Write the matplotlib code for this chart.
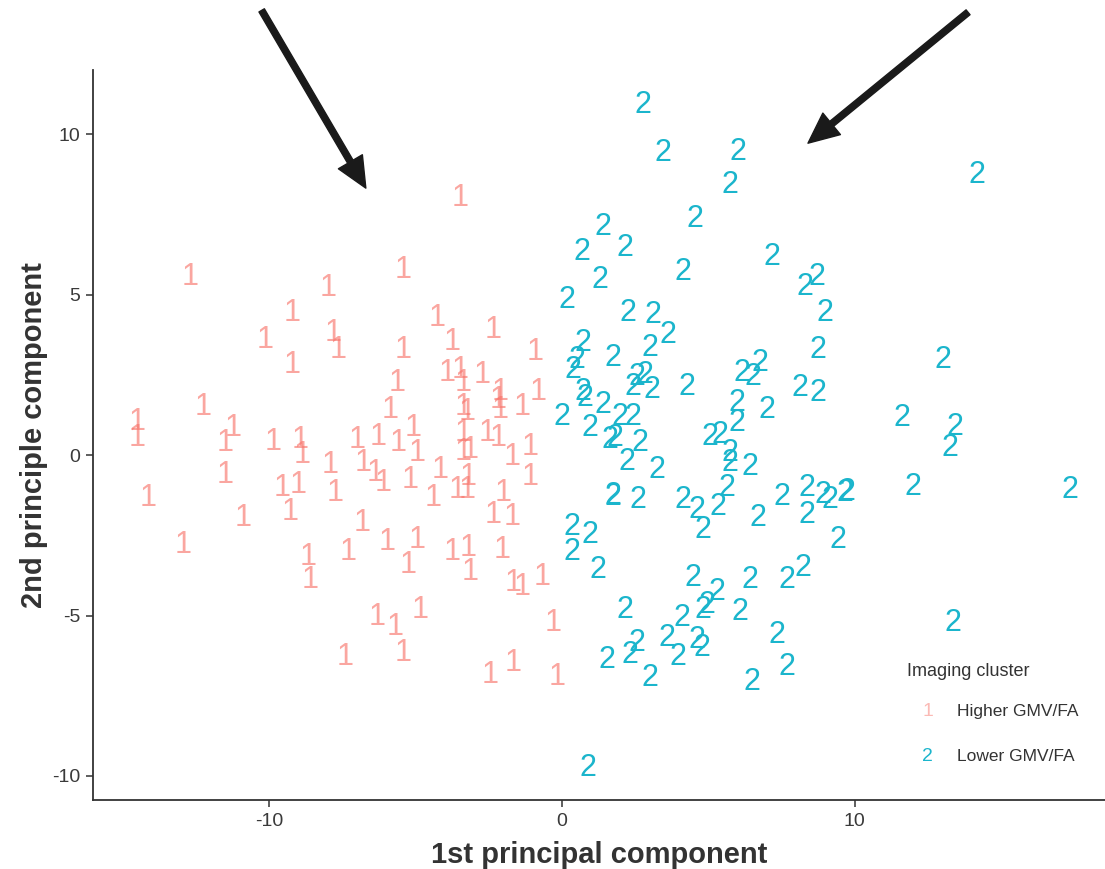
import matplotlib
matplotlib.use("Agg")
import matplotlib.pyplot as plt

# cluster 1 (Higher GMV/FA): PC1, PC2
ones_x = [-12.72, -8.00, -9.23, -10.15, -9.23, -7.83, -7.66, -12.27, -14.50, -14.50,
          -11.25, -11.52, -11.52, -9.88, -8.96, -8.89, -7.93, -9.57, -9.03, -9.30,
          -7.76, -14.15, -10.91, -12.96, -8.68, -8.62, -7.32, -3.49, -5.44, -4.27,
          -3.76, -2.36, -0.92, -5.44, -5.64, -3.93, -3.49, -3.38, -2.74, -2.12,
          -0.82, -3.38, -3.25, -2.12, -2.19, -1.37, -5.88, -7.01, -6.29, -5.09,
          -5.61, -4.96, -3.38, -2.56, -2.19, -3.38, -3.15, -6.80, -6.39, -6.12,
          -5.20, -4.17, -3.21, -3.59, -3.25, -1.71, -1.09, -1.09, -4.41, -2.02,
          -2.36, -1.71, -6.84, -5.98, -4.96, -3.76, -3.21, -3.15, -2.05, -5.26,
          -1.68, -1.37, -0.68, -6.32, -5.71, -4.85, -0.31, -7.42, -5.44, -2.46,
          -1.68, -0.17]
ones_y = [5.55, 5.20, 4.42, 3.58, 2.80, 3.80, 3.27, 1.50, 1.03, 0.53,
          0.84, 0.37, -0.62, 0.40, 0.47, 0.00, -0.31, -1.03, -0.93, -1.78,
          -1.18, -1.34, -1.96, -2.80, -3.18, -3.89, -3.02, 8.01, 5.76, 4.27,
          3.52, 3.89, 3.21, 3.27, 2.24, 2.55, 2.65, 2.24, 2.49, 1.98,
          1.96, 1.50, 1.35, 1.40, 1.71, 1.50, 1.40, 0.47, 0.56, 0.84,
          0.37, 0.06, 0.69, 0.69, 0.53, 0.09, 0.16, -0.25, -0.56, -0.87,
          -0.78, -0.47, -0.69, -1.09, -1.09, -0.06, 0.25, -0.69, -1.34, -1.18,
          -1.87, -1.93, -2.12, -2.71, -2.65, -3.02, -2.90, -3.64, -2.96, -3.43,
          -3.99, -4.11, -3.80, -5.05, -5.36, -4.83, -5.23, -6.29, -6.17, -6.85,
          -6.48, -6.92]

# cluster 2 (Lower GMV/FA)
twos_x = [2.77, 3.45, 6.02, 5.74, 4.55, 1.40, 0.68, 2.15, 4.14, 7.18,
          1.30, 8.72, 8.31, 0.17, 2.26, 3.11, 3.62, 8.99, 14.19, 0.72,
          0.51, 0.38, 1.74, 3.01, 2.56, 2.84, 3.08, 2.43, 4.27, 0.72,
          0.79, 1.40, 0.00, 0.96, 1.98, 2.43, 1.64, 1.81, 2.67, 2.22,
          3.25, 1.74, 1.76, 2.60, 4.14, 4.62, 4.82, 5.33, 5.64, 6.70,
          7.52, 8.38, 8.38, 8.92, 0.34, 0.96, 0.34, 5.06, 5.40, 5.74,
          5.74, 6.43, 5.98, 5.98, 6.15, 6.77, 6.53, 7.01, 8.14, 8.75,
          8.75, 13.03, 11.62, 13.44, 13.26, 12.00, 17.37, 9.16, 9.68, 9.74,
          9.44, 1.23, 4.48, 5.30, 6.43, 7.69, 8.24, 2.15, 4.10, 4.82,
          4.96, 6.09, 3.59, 2.56, 2.32, 1.54, 3.97, 4.62, 4.79, 3.01,
          7.35, 7.69, 6.50, 0.89, 13.37]
twos_y = [10.90, 9.41, 9.44, 8.41, 7.35, 7.10, 6.32, 6.45, 5.70, 6.17,
          5.45, 5.55, 5.23, 4.83, 4.42, 4.36, 3.74, 4.42, 8.72, 3.49,
          2.96, 2.65, 3.02, 3.33, 2.43, 2.49, 2.02, 2.12, 2.12, 1.96,
          1.78, 1.56, 1.18, 0.84, 1.18, 1.18, 0.47, 0.53, 0.37, -0.22,
          -0.47, -1.31, -1.28, -1.40, -1.40, -1.71, -2.34, -1.62, -1.03, -1.96,
          -1.31, -1.03, -1.87, -1.25, -2.24, -2.49, -3.02, 0.56, 0.62, 0.06,
          -0.25, -0.37, 1.62, 1.00, 2.55, 2.87, 2.43, 1.40, 2.09, 1.93,
          3.27, 2.96, 1.15, 0.87, 0.22, -1.00, -1.09, -1.40, -1.18, -1.15,
          -2.65, -3.58, -3.83, -4.27, -3.89, -3.89, -3.52, -4.83, -5.08, -4.83,
          -4.67, -4.89, -5.70, -5.86, -6.23, -6.39, -6.29, -5.76, -6.01, -6.95,
          -5.61, -6.60, -7.07, -9.75, -5.23]

cluster_labels = ["Higher GMV/FA", "Lower GMV/FA"]
red = "#F8766D"
teal = "#1BB5CC"

plt.rcParams["font.family"] = ["Liberation Sans", "DejaVu Sans"]
plt.rcParams["axes.unicode_minus"] = False

fig = plt.figure(figsize=(11.05, 8.69), dpi=100)
ax = fig.add_axes([0.084, 0.0794, 0.916, 0.84])

for x, y in zip(ones_x, ones_y):
    ax.text(x, y, "1", color=red, alpha=0.65, fontsize=22,
            ha="center", va="center")
for x, y in zip(twos_x, twos_y):
    ax.text(x, y, "2", color=teal, fontsize=22, ha="center", va="center")

ax.set_xlim(-16.03, 18.56)
ax.set_ylim(-10.75, 12.0)
ax.set_xticks([-10, 0, 10])
ax.set_yticks([-10, -5, 0, 5, 10])

for side in ["top", "right"]:
    ax.spines[side].set_visible(False)
for side in ["left", "bottom"]:
    ax.spines[side].set_linewidth(1.3)
    ax.spines[side].set_color("#333333")
ax.tick_params(length=5, width=1.1, color="#333333", labelsize=14,
               labelcolor="#3a3a3a", pad=4)

ax.set_xlabel("1st principal component", fontsize=21, fontweight="bold",
              color="#333333", labelpad=8)
ax.set_ylabel("2nd principle component", fontsize=21, fontweight="bold",
              color="#333333", labelpad=3)

# legend, drawn the ggplot way (text keys)
ax.text(0.804, 0.176, "Imaging cluster", transform=ax.transAxes,
        fontsize=13, color="#333333", va="center", ha="left")
ax.text(0.825, 0.121, "1", transform=ax.transAxes, color=red, alpha=0.5,
        fontsize=14, ha="center", va="center")
ax.text(0.854, 0.121, cluster_labels[0], transform=ax.transAxes,
        fontsize=12.5, color="#333333", va="center", ha="left")
ax.text(0.825, 0.059, "2", transform=ax.transAxes, color=teal,
        fontsize=14, ha="center", va="center")
ax.text(0.854, 0.059, cluster_labels[1], transform=ax.transAxes,
        fontsize=12.5, color="#333333", va="center", ha="left")

# the two black arrows above the clusters
arrow_style = dict(width=4.5, headwidth=20, headlength=22,
                   facecolor="#1a1a1a", edgecolor="#1a1a1a", shrink=0)
ax.annotate("", xy=(-6.70, 8.32), xytext=(-10.26, 13.86),
            arrowprops=arrow_style, annotation_clip=False)
ax.annotate("", xy=(8.41, 9.72), xytext=(13.88, 13.80),
            arrowprops=arrow_style, annotation_clip=False)

fig.savefig("out.png", dpi=100)
